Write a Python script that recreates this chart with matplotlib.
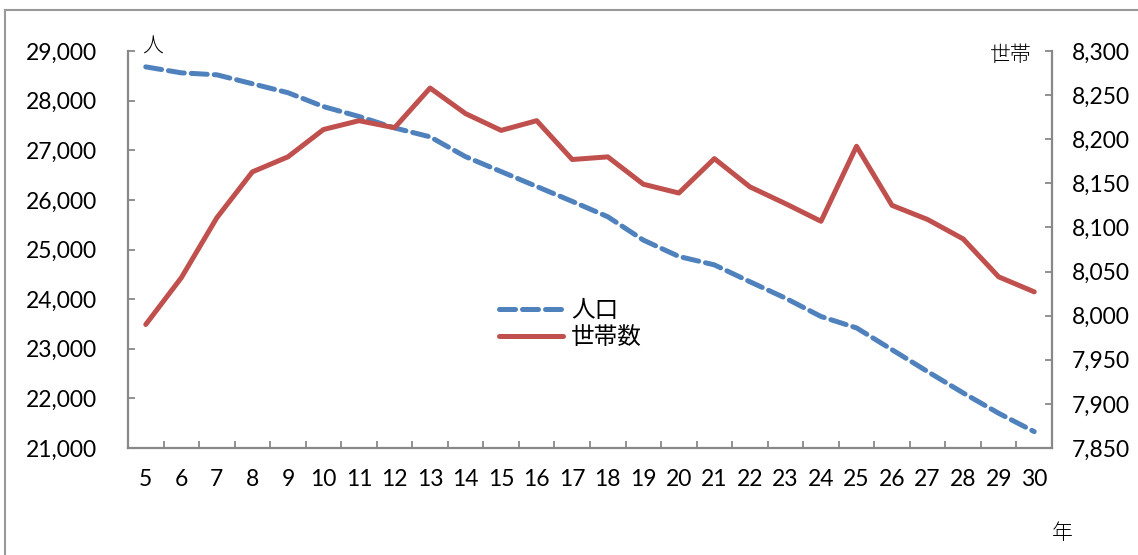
import matplotlib.pyplot as plt
from matplotlib.lines import Line2D
from matplotlib.ticker import FuncFormatter, MultipleLocator

plt.rcParams['font.family'] = ['Lato', 'Noto Sans CJK JP', 'DejaVu Sans']

years = list(range(5, 31))
year_labels = [str(y) for y in years]
population = [28680, 28560, 28520, 28340, 28160, 27880, 27680, 27450, 27270, 26870,
              26570, 26270, 25970, 25660, 25190, 24860, 24690, 24350, 24020, 23650,
              23420, 22980, 22540, 22110, 21700, 21330]
households = [7990, 8043, 8111, 8163, 8180, 8211, 8221, 8213, 8258, 8229,
              8210, 8221, 8177, 8180, 8149, 8139, 8178, 8146, 8127, 8107,
              8192, 8125, 8109, 8087, 8044, 8027]

blue = '#4F81BD'
red = '#C0504D'
grey = '#888888'

fig = plt.figure(figsize=(11.38, 5.55), dpi=100)
ax = fig.add_axes([128/1138, 1-448/555, (1052-128)/1138, (448-51)/555])
ax2 = ax.twinx()

l1, = ax.plot(years, population, color=blue, lw=3.6, dashes=(3.2, 1.4),
              dash_capstyle='round', label='人口')
l2, = ax2.plot(years, households, color=red, lw=3.6, solid_capstyle='round',
               label='世帯数')

ax.set_xlim(4.5, 30.5)
ax.set_ylim(21000, 29000)
ax2.set_ylim(7850, 8300)
ax.yaxis.set_major_locator(MultipleLocator(1000))
ax2.yaxis.set_major_locator(MultipleLocator(50))
fmt = FuncFormatter(lambda v, p: f'{int(v):,}')
ax.yaxis.set_major_formatter(fmt)
ax2.yaxis.set_major_formatter(fmt)

ax.set_xticks(years)
ax.set_xticklabels(year_labels)
ax.set_xticks([y + 0.5 for y in years[:-1]], minor=True)

for a in (ax, ax2):
    for s in a.spines.values():
        s.set_visible(False)
ax.spines['left'].set_visible(True)
ax.spines['bottom'].set_visible(True)
ax2.spines['right'].set_visible(True)
for s in (ax.spines['left'], ax.spines['bottom'], ax2.spines['right']):
    s.set_color(grey)
    s.set_linewidth(1.6)

ax.tick_params(axis='x', which='major', length=0, pad=15, labelsize=16.5)
ax.tick_params(axis='x', which='minor', direction='in', length=5, width=1.3, color=grey)
ax.tick_params(axis='y', direction='in', length=5, width=1.3, color=grey, pad=22, labelsize=16.5)
ax2.tick_params(axis='y', direction='in', length=5, width=1.3, color=grey, pad=14, labelsize=16.5)

fig.text(142/1138, 1-47/555, '人', fontsize=15, ha='left', va='center',
         family=['Noto Sans CJK JP'], weight='light')
fig.text(1032/1138, 1-55/555, '世帯', fontsize=15, ha='right', va='center',
         family=['Noto Sans CJK JP'], weight='light')
fig.text(1062/1138, 1-533/555, '年', fontsize=15, ha='center', va='center',
         family=['Noto Sans CJK JP'], weight='light')

leg = ax.legend(handles=[l1, l2], loc='upper left',
                bbox_to_anchor=((478-128)/924, (448-278)/397),
                frameon=False, handlelength=2.7, handletextpad=0.35, labelspacing=0.15,
                prop={'family': 'Noto Sans CJK JP', 'size': 17, 'weight': 'normal'})

# outer frame of the chart area
fig.add_artist(Line2D([5/1138, 5/1138], [0, 1-10/555], color='#999999', lw=1.5))
fig.add_artist(Line2D([5/1138, 1], [1-10/555, 1-10/555], color='#999999', lw=1.5))

fig.savefig('out.png', dpi=100)
